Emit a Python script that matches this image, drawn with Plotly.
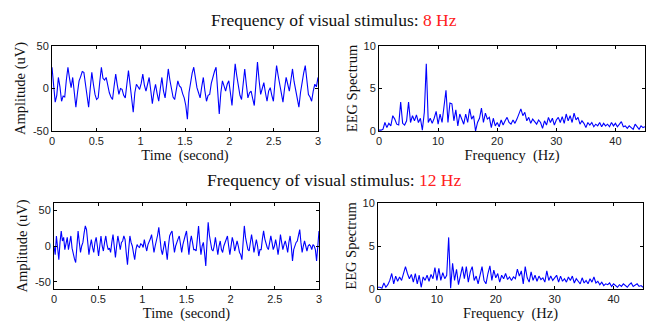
import numpy as np
import plotly.graph_objects as go

# ---------------- data ----------------
eeg_8hz = [25,5,-16,-8,13,2,-15,-9,-10,10,
           25,12,1,13,-5,-22,-5,9,14,20,
           19,3,-11,-22,0,19,5,-7,-13,-11,
           8,25,12,10,13,2,-5,-10,-13,3,
           17,4,-7,0,-1,-8,-11,5,21,5,
           -12,-28,-5,5,
           2,-1,6,17,4,-3,5,13,-2,-18,
           -4,5,-6,-15,0,13,-3,-11,5,23,
           10,-3,-10,-13,0,9,3,1,-6,-11,
           -20,-36,-5,9,18,25,10,1,-5,-11,
           2,13,-3,-15,-8,-7,6,15,20,25,
           -5,-30,-5,9,3,-3,5,9,-5,-20,
           5,29,15,1,-8,-13,5,23,5,-11,
           -5,-3,-12,-20,5,31,10,-7,0,7,
           -5,-15,-3,1,-8,-15,8,27,15,5,
           -5,-16,0,13,5,-3,10,23,8,-3,
           -12,-22,-5,9,18,27,8,-7,-10,-15,
           -3,5,2,13]

eeg_12hz = [0,-12,14,-5,-19,5,21,7,12,-5,
            2,12,-5,3,14,-3,-12,-18,-23,0,
            21,5,-9,0,5,18,28,23,5,-12,
            0,9,-2,-9,5,12,0,-14,0,14,
            0,-7,5,14,2,-5,-3,-9,5,16,
            0,-16,0,14,5,-5,5,7,14,9,
            -10,-26,-5,14,5,0,-10,-19,-5,2,
            -1,-2,3,2,-2,9,0,-7,2,5,
            10,16,2,-9,0,7,15,26,5,-5,
            -12,0,7,-5,-19,0,14,18,21,5,
            -9,0,7,10,14,0,-9,2,7,15,
            21,0,-12,5,14,5,-5,-5,-7,10,
            28,5,-12,0,5,-10,-28,5,33,15,
            5,-5,-7,0,12,0,-12,0,7,-5,
            -9,0,5,10,14,0,-12,0,12,5,
            -7,0,7,0,-9,-12,-19,5,28,12,
            0,-5,-7,5,16,5,-9,0,9,0,
            -14,-5,-5,10,21,10,2,-2,-5,5,
            14,5,-5,0,9,0,-12,0,16,5,
            -5,2,7,0,-9,5,14,0,-21,-5,
            2,5,7,14,23,5,-9,0,7,0,
            -7,0,2,0,-5,2,0,-5,-21,0,21]

spec_8hz = [0.1,0.1,0.2,1.0,0.4,0.9,0.6,1.8,1.4,0.8,
            0.7,3.4,0.9,0.7,1.2,3.4,1.0,1.8,1.2,1.9,
            1.0,1.5,0.1,2.2,7.9,1.0,1.5,0.9,1.5,2.3,
            0.8,2.0,1.0,3.2,4.8,1.0,3.3,3.2,1.2,2.5,
            0.6,2.0,1.5,0.8,2.0,1.0,2.6,1.4,1.8,0.0,
            1.0,1.5,2.7,1.0,2.1,1.4,1.6,0.4,1.5,0.6,
            1.0,0.5,1.3,0.7,1.2,1.6,1.0,0.8,1.3,0.9,
            1.4,2.0,2.6,1.8,2.2,1.2,1.6,0.9,1.4,1.1,
            0.8,1.3,1.0,0.3,1.2,0.7,1.6,1.0,1.5,0.7,
            1.3,1.6,1.0,1.7,0.9,2.0,1.2,1.8,1.0,2.1,
            1.3,1.6,0.8,1.2,0.9,0.4,1.0,0.7,1.0,0.5,
            0.8,0.6,1.0,0.5,0.9,0.6,0.8,0.5,1.0,0.6,
            0.9,0.5,0.8,1.1,0.5,0.6,0.3,0.6,0.4,0.2,
            0.8,0.5,0.2,0.6,0.4,0.5]

spec_12hz = [0.2,0.2,0.1,0.7,0.2,0.5,1.0,1.8,0.6,1.5,
             0.9,1.4,1.0,1.8,2.6,1.8,1.2,1.7,0.8,1.8,
             0.6,1.6,0.2,1.4,1.0,1.6,0.9,1.7,1.2,2.5,
             1.0,2.4,1.0,1.9,1.2,1.6,6.0,0.1,3.0,1.0,
             2.3,0.5,1.7,2.6,1.2,2.6,0.8,2.0,2.6,1.0,
             1.5,0.6,1.6,2.6,1.0,0.6,1.8,2.7,1.0,2.2,
             1.3,1.8,0.8,1.6,1.2,1.8,1.1,1.4,1.0,1.4,
             1.2,2.3,1.5,2.1,0.6,2.6,1.3,0.8,2.0,1.0,
             1.6,0.9,1.5,1.1,1.3,0.8,2.1,1.0,1.5,1.0,
             1.3,1.6,0.8,1.5,0.9,1.2,0.8,1.4,1.0,1.5,
             0.7,1.2,0.9,0.6,1.3,0.7,1.0,0.6,1.2,0.8,
             1.4,0.7,0.9,0.5,0.8,0.4,0.6,0.5,0.7,0.3,
             0.6,0.4,0.2,0.5,0.3,0.6,0.4,0.2,0.5,0.7,
             0.3,0.5,0.6,0.3,0.4,0.2]

duration_s = 3.0
max_freq_hz = 45.0
stimuli = ["8 Hz", "12 Hz"]

t8 = np.linspace(0, duration_s, len(eeg_8hz))
t12 = np.linspace(0, duration_s, len(eeg_12hz))
f8 = np.linspace(0, max_freq_hz, len(spec_8hz))
f12 = np.linspace(0, max_freq_hz, len(spec_12hz))

# ---------------- figure ----------------
W, H = 650, 322
fig = go.Figure()
line = dict(color="#0000FF", width=1.1)
fig.add_trace(go.Scatter(x=t8, y=eeg_8hz, mode="lines", line=line, xaxis="x", yaxis="y"))
fig.add_trace(go.Scatter(x=f8, y=spec_8hz, mode="lines", line=line, xaxis="x2", yaxis="y2"))
fig.add_trace(go.Scatter(x=t12, y=eeg_12hz, mode="lines", line=line, xaxis="x3", yaxis="y3"))
fig.add_trace(go.Scatter(x=f12, y=spec_12hz, mode="lines", line=line, xaxis="x4", yaxis="y4"))

def px_x(a, b):
    return [a / W, b / W]

def px_y(top, bottom):
    return [1 - bottom / H, 1 - top / H]

tickfont = dict(family="Liberation Sans, Arial", size=11, color="#222")
titlefont = dict(family="Liberation Serif, Times New Roman", size=14.5, color="#111")

def xax(dom, anchor, rng, tv, tt, title):
    return dict(domain=dom, anchor=anchor, range=rng, tickvals=tv, ticktext=tt,
                showline=True, linecolor="black", linewidth=1, mirror="ticks",
                ticks="inside", ticklen=3, tickcolor="black", showgrid=False,
                zeroline=False, tickfont=tickfont, automargin=False,
                title=dict(text=title, font=titlefont, standoff=3))

def yax(dom, anchor, rng, tv, tt, title, standoff):
    return dict(domain=dom, anchor=anchor, range=rng, tickvals=tv, ticktext=tt,
                showline=True, linecolor="black", linewidth=1, mirror="ticks",
                ticks="inside", ticklen=3, tickcolor="black", showgrid=False,
                zeroline=False, tickfont=tickfont, automargin=False,
                title=dict(text=title, font=titlefont, standoff=standoff))

t_ticks = [0, 0.5, 1, 1.5, 2, 2.5, 3]
t_text = ["0", "0.5", "1", "1.5", "2", "2.5", "3"]
f_ticks = [0, 10, 20, 30, 40]
f_text = ["0", "10", "20", "30", "40"]
nb = "\u00a0"

fig.update_layout(
    width=W, height=H, autosize=False,
    margin=dict(l=0, r=0, t=0, b=0, autoexpand=False),
    paper_bgcolor="white", plot_bgcolor="white",
    showlegend=False,
    xaxis=xax(px_x(52, 318), "y", [0, 3], t_ticks, t_text, "Time" + nb + " (second)"),
    yaxis=yax(px_y(46, 131), "x", [-50, 50], [-50, 0, 50], ["-50", "0", "50"], "Amplitude (uV)", 3),
    xaxis2=xax(px_x(379, 645), "y2", [0, 45], f_ticks, f_text, "Frequency" + nb + " (Hz)"),
    yaxis2=yax(px_y(46, 131), "x2", [0, 10], [0, 5, 10], ["0", "5", "10"], "EEG Spectrum", 2),
    xaxis3=xax(px_x(54, 319), "y3", [0, 3], t_ticks, t_text, "Time" + nb + " (second)"),
    yaxis3=yax(px_y(203, 289), "x3", [-60, 60], [-50, 0, 50], ["-50", "0", "50"], "Amplitude (uV)", 3),
    xaxis4=xax(px_x(378, 643), "y4", [0, 45], f_ticks, f_text, "Frequency" + nb + " (Hz)"),
    yaxis4=yax(px_y(203, 289), "x4", [0, 10], [0, 5, 10], ["0", "5", "10"], "EEG Spectrum", 2),
)

title_font = dict(family="Liberation Serif, Times New Roman", size=17.5, color="#111")
for stim, ypix in zip(stimuli, [20, 180]):
    fig.add_annotation(
        x=334 / W, y=1 - ypix / H, xref="paper", yref="paper",
        xanchor="center", yanchor="middle", showarrow=False,
        text="Frequency of visual stimulus: <span style='color:#FF2020'>" + stim + "</span>",
        font=title_font,
    )

fig.write_html("out.html", config={"displayModeBar": False},
               post_script="document.body.style.margin='0';")
